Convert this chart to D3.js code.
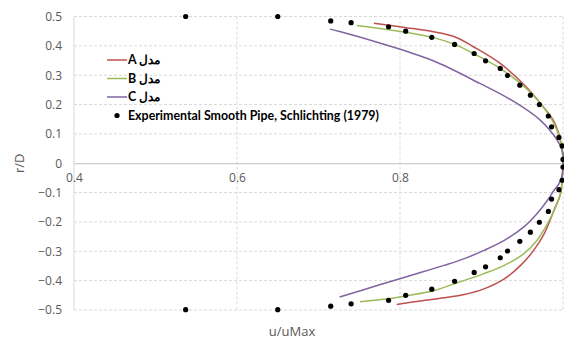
<!DOCTYPE html>
<html lang="en">
  <head>
    <meta charset="UTF-8" />
    <title>u/uMax vs r/D</title>
    <script src="https://cdn.jsdelivr.net/npm/d3@7/dist/d3.min.js"></script>
    <style>
      html,
      body {
        margin: 0;
        padding: 0;
        background: #fff;
      }
      svg {
        display: block;
        font-family: Lato, 'Open Sans', sans-serif;
      }
    </style>
  </head>
  <body>
    <svg width="564" height="339"></svg>
    <script>
      // tick values
      const xTicks = [0.4, 0.6, 0.8, 1.0];
      const yTicks = [0.5, 0.4, 0.3, 0.2, 0.1, 0, -0.1, -0.2, -0.3, -0.4, -0.5];

      // model curves, [u/uMax, r/D]
      const modelA = [
        [0.768, 0.477], [0.808, 0.462], [0.841, 0.448], [0.867, 0.431], [0.89, 0.397],
        [0.923, 0.34], [0.955, 0.26], [0.972, 0.205], [0.988, 0.147], [0.996, 0.089],
        [1.0, 0.02], [1.0, 0], [0.999, -0.05], [0.997, -0.103], [0.989, -0.16],
        [0.977, -0.24], [0.964, -0.297], [0.948, -0.348], [0.928, -0.394], [0.903, -0.428],
        [0.879, -0.447], [0.854, -0.458], [0.825, -0.469], [0.796, -0.481]
      ];
      const modelB = [
        [0.747, 0.469], [0.788, 0.454], [0.841, 0.428], [0.867, 0.405], [0.89, 0.374],
        [0.923, 0.323], [0.955, 0.255], [0.972, 0.205], [0.988, 0.14], [0.996, 0.085],
        [1.0, 0.02], [1.0, 0], [0.9995, -0.05], [0.997, -0.103], [0.991, -0.149],
        [0.981, -0.206], [0.968, -0.263], [0.952, -0.308], [0.928, -0.348], [0.903, -0.376],
        [0.879, -0.399], [0.854, -0.423], [0.84, -0.435], [0.807, -0.452], [0.786, -0.462],
        [0.751, -0.472]
      ];
      const modelC = [
        [0.714, 0.457], [0.726, 0.449], [0.775, 0.41], [0.84, 0.35],
        [0.898, 0.272], [0.938, 0.213], [0.972, 0.147], [0.993, 0.078], [1.0, 0.034],
        [1.0, 0], [0.999, -0.04], [0.995, -0.07], [0.989, -0.092], [0.981, -0.126],
        [0.968, -0.172], [0.952, -0.217], [0.928, -0.263], [0.903, -0.297], [0.879, -0.325],
        [0.854, -0.348], [0.816, -0.38], [0.775, -0.414], [0.726, -0.456]
      ];

      // Schlichting (1979) experimental points
      const experimental = [
        [0.537, 0.5], [0.65, 0.5], [0.715, 0.485], [0.74, 0.479], [0.786, 0.465],
        [0.807, 0.45], [0.839, 0.429], [0.867, 0.405], [0.891, 0.374], [0.905, 0.349],
        [0.923, 0.323], [0.932, 0.299], [0.947, 0.266], [0.96, 0.232], [0.971, 0.2],
        [0.982, 0.161], [0.986, 0.124], [0.995, 0.088], [0.999, 0.059], [1.0, 0.013],
        [1.0, -0.013], [0.999, -0.058], [0.995, -0.09], [0.986, -0.122], [0.982, -0.164],
        [0.971, -0.201], [0.96, -0.235], [0.947, -0.266], [0.932, -0.299], [0.923, -0.322],
        [0.905, -0.353], [0.891, -0.372], [0.867, -0.402], [0.839, -0.429], [0.807, -0.45],
        [0.786, -0.467], [0.74, -0.479], [0.715, -0.487], [0.65, -0.499], [0.537, -0.499]
      ];

      const series = [
        { name: 'A', values: modelA, color: '#c0504d' },
        { name: 'B', values: modelB, color: '#9bbb59' },
        { name: 'C', values: modelC, color: '#8064a2' }
      ];

      const margin = { top: 16.5, right: 1, bottom: 29, left: 74 };
      const width = 564 - margin.left - margin.right;
      const height = 339 - margin.top - margin.bottom;

      const svg = d3.select('svg');
      const g = svg
        .append('g')
        .attr('transform', `translate(${margin.left},${margin.top})`);

      const x = d3.scaleLinear().domain([0.4, 1.0]).range([0, width]);
      const y = d3.scaleLinear().domain([-0.5, 0.5]).range([height, 0]);

      // grid
      g.append('g')
        .selectAll('line')
        .data(yTicks.filter(d => d !== 0))
        .enter()
        .append('line')
        .attr('x1', 0)
        .attr('x2', width)
        .attr('y1', d => y(d))
        .attr('y2', d => y(d))
        .attr('stroke', '#d9d9d9')
        .attr('stroke-dasharray', '3,2');

      g.append('g')
        .selectAll('line')
        .data(xTicks.slice(1))
        .enter()
        .append('line')
        .attr('x1', d => x(d))
        .attr('x2', d => x(d))
        .attr('y1', 0)
        .attr('y2', height)
        .attr('stroke', '#d9d9d9')
        .attr('stroke-dasharray', '3,2');

      g.append('line')
        .attr('x1', 0)
        .attr('x2', 0)
        .attr('y1', 0)
        .attr('y2', height)
        .attr('stroke', '#d9d9d9');

      // y axis labels
      const yAxis = d3
        .axisLeft(y)
        .tickValues(yTicks)
        .tickSize(0)
        .tickPadding(12)
        .tickFormat(d3.format('.1~f'));
      const yg = g.append('g').call(yAxis);
      yg.select('.domain').remove();
      yg.selectAll('text')
        .attr('fill', '#595959')
        .style('font-size', '12px')
        .style('font-family', "'Open Sans', Lato, sans-serif");

      // x axis sitting on r/D = 0
      const xAxis = d3
        .axisBottom(x)
        .tickValues(xTicks.slice(0, 3))
        .tickSize(0)
        .tickPadding(10)
        .tickFormat(d3.format('.1f'));
      const xg = g
        .append('g')
        .attr('transform', `translate(0,${y(0)})`)
        .call(xAxis);
      xg.select('.domain').attr('stroke', '#bfbfbf');
      xg.selectAll('text')
        .attr('fill', '#595959')
        .style('font-size', '12px')
        .style('font-family', "'Open Sans', Lato, sans-serif");

      // curves
      const line = d3
        .line()
        .x(d => x(d[0]))
        .y(d => y(d[1]))
        .curve(d3.curveCatmullRom.alpha(0.5));

      g.selectAll('path.model')
        .data(series)
        .enter()
        .append('path')
        .attr('class', 'model')
        .attr('d', d => line(d.values))
        .attr('fill', 'none')
        .attr('stroke', d => d.color)
        .attr('stroke-width', 1.5);

      g.selectAll('circle.exp')
        .data(experimental)
        .enter()
        .append('circle')
        .attr('class', 'exp')
        .attr('cx', d => x(d[0]))
        .attr('cy', d => y(d[1]))
        .attr('r', 2.6)
        .attr('fill', '#000');

      // axis titles
      svg
        .append('text')
        .attr('transform', `translate(24,${margin.top + y(0)}) rotate(-90)`)
        .attr('text-anchor', 'middle')
        .attr('fill', '#595959')
        .style('font-size', '13px')
        .style('font-family', "'Open Sans', Lato, sans-serif")
        .text('r/D');

      svg
        .append('text')
        .attr('x', 292)
        .attr('y', 336)
        .attr('text-anchor', 'middle')
        .attr('fill', '#595959')
        .style('font-size', '13px')
        .style('font-family', "'Open Sans', Lato, sans-serif")
        .text('u/uMax');

      // legend
      const legend = svg.append('g').attr('transform', 'translate(107,60)');
      const item = legend
        .selectAll('g.item')
        .data(series)
        .enter()
        .append('g')
        .attr('class', 'item')
        .attr('transform', (d, i) => `translate(0,${i * 18.5})`);
      item
        .append('line')
        .attr('x1', 0)
        .attr('x2', 20)
        .attr('stroke', d => d.color)
        .attr('stroke-width', 1.5);
      item
        .append('text')
        .attr('x', 21)
        .attr('dy', '0.35em')
        .style('font-size', '12.4px')
        .style('font-weight', 'bold')
        .attr('fill', '#000')
        .text(d => d.name + ' مدل');

      const expItem = legend.append('g').attr('transform', 'translate(0,55.5)');
      expItem.append('circle').attr('cx', 10).attr('r', 2.6).attr('fill', '#000');
      expItem
        .append('text')
        .attr('x', 21)
        .attr('dy', '0.35em')
        .style('font-size', '12.4px')
        .style('font-weight', 'bold')
        .attr('fill', '#000')
        .text('Experimental Smooth Pipe, Schlichting (1979)');
    </script>
  </body>
</html>
